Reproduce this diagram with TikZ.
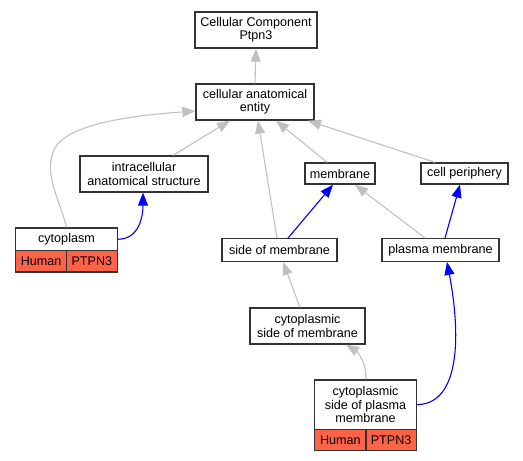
\documentclass[tikz,border=0pt]{standalone}
\usepackage{fontspec}
\setmainfont{Liberation Sans}
\usetikzlibrary{arrows.meta}
\definecolor{edgegray}{HTML}{C0C0C0}
\definecolor{edgeblue}{HTML}{0000FF}
\definecolor{tomatored}{HTML}{FF6347}
\tikzset{
  box/.style={draw=black!80, line width=1.3pt, fill=white, inner sep=0pt, align=center,
    font=\fontsize{12.6}{13.4}\selectfont},
  redbox/.style={box, fill=tomatored},
  isa/.style={draw=edgegray, line width=1.1pt, -{Triangle[length=13pt,width=10pt]}},
  partof/.style={draw=edgeblue, line width=1.1pt, -{Triangle[length=13pt,width=10pt]}},
}
\begin{document}
\begin{tikzpicture}[x=1pt,y=-1pt]
\useasboundingbox (0,0) rectangle (523,461);
\node[box, minimum width=122pt, minimum height=36pt] (cc) at (256,30) {Cellular Component\\Ptpn3};
\node[box, minimum width=118pt, minimum height=36pt] (cae) at (255,102) {cellular anatomical\\entity};
\node[box, minimum width=128pt, minimum height=36pt] (intra) at (144,174) {intracellular\\anatomical structure};
\node[box, minimum width=70pt, minimum height=21pt] (memb) at (340,173.5) {membrane};
\node[box, minimum width=87pt, minimum height=21pt] (cellp) at (464.5,173.5) {cell periphery};
\node[box, minimum width=101.6pt, minimum height=22.6pt] (cyto) at (66.5,239.3) {cytoplasm};
\node[redbox, minimum width=50.8pt, minimum height=21.3pt] (cytoh) at (41.1,261.3) {Human};
\node[redbox, minimum width=50.8pt, minimum height=21.3pt] (cytop) at (91.9,261.3) {PTPN3};
\node[box, minimum width=115pt, minimum height=22.6pt] (som) at (279.5,250) {side of membrane};
\node[box, minimum width=117pt, minimum height=22.6pt] (pm) at (440.5,250) {plasma membrane};
\node[box, minimum width=115pt, minimum height=36pt] (csm) at (307.5,326) {cytoplasmic\\side of membrane};
\node[box, minimum width=101.4pt, minimum height=49.3pt] (cspm) at (365.5,404.7) {cytoplasmic\\side of plasma\\membrane};
\node[redbox, minimum width=51.2pt, minimum height=21.3pt] (cspmh) at (340.4,440) {Human};
\node[redbox, minimum width=50.2pt, minimum height=21.3pt] (cspmp) at (391.1,440) {PTPN3};

\draw[isa] (cae.north) -- (cc.south);
\draw[isa] ([xshift=29pt]intra.north) -- ([xshift=-25pt]cae.south);
\draw[isa] (cyto.north) .. controls (60,200) and (42,172) .. (55,148) .. controls (70,122) and (140,115) .. ([yshift=-9pt]cae.west);
\draw[isa] ([xshift=-2.5pt]som.north) -- ([xshift=3pt]cae.south);
\draw[isa] ([xshift=-13pt]memb.north) -- ([xshift=21pt]cae.south);
\draw[isa] ([xshift=-29.5pt]cellp.north) -- ([xshift=53pt]cae.south);
\draw[partof] (cyto.east) .. controls (140,239) and (143,215) .. ([xshift=-1pt]intra.south);
\draw[partof] ([xshift=8.5pt]som.north) -- ([xshift=-7pt]memb.south);
\draw[isa] ([xshift=-15.5pt]pm.north) -- ([xshift=15pt]memb.south);
\draw[partof] ([xshift=4.5pt]pm.north) -- ([xshift=-4.5pt]cellp.south);
\draw[isa] ([xshift=-7.5pt]csm.north) -- ([xshift=3.5pt]som.south);
\draw[isa] ([xshift=0.5pt]cspm.north) .. controls (367,365) and (358,352) .. ([xshift=38.5pt]csm.south);
\draw[partof] (cspm.east) .. controls (462,404) and (460,330) .. ([xshift=6.5pt]pm.south);
\end{tikzpicture}
\end{document}
